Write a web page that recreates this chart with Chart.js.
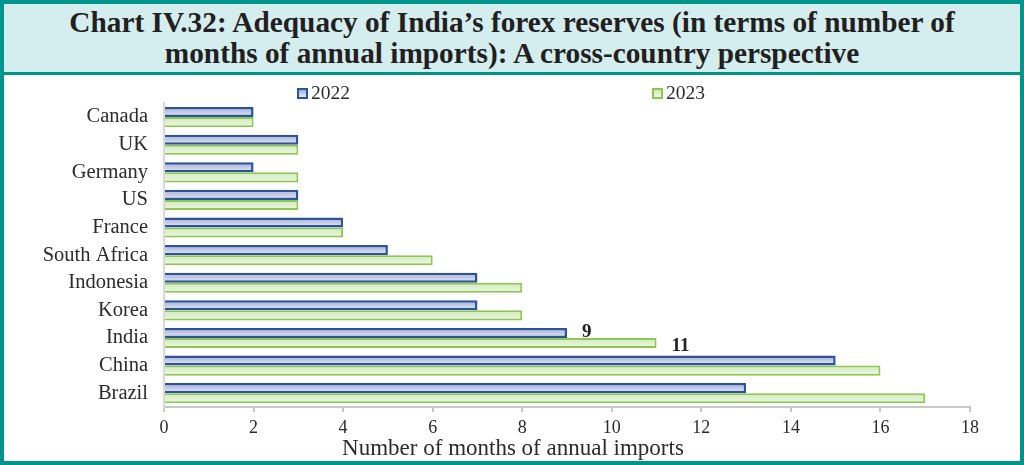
<!DOCTYPE html>
<html>
<head>
<meta charset="utf-8">
<script src="https://cdn.jsdelivr.net/npm/chart.js@4"></script>
<style>
  body { margin: 0; background: #fff; }
  #frame {
    position: relative; width: 1024px; height: 465px;
    border: 4px solid #00958a; box-sizing: border-box;
    font-family: "Liberation Serif", serif; color: #2b2b2b;
  }
  #title {
    background: #d4eef0; border-bottom: 3px solid #00958a;
    text-align: center; font-weight: bold; font-size: 29.3px; line-height: 31px;
    padding-top: 3px; height: 65px; color: #231f20;
  }
  #legend { position: absolute; top: 78px; left: 0; width: 100%; height: 22px; }
  .item { position: absolute; font-size: 19.5px; display: flex; align-items: center; }
  .box { width: 7px; height: 7px; border: 2px solid; margin-right: 3px; }
  #wrap { position: absolute; left: 0; top: 71px; width: 1016px; height: 386px; }
  #xtitle { position: absolute; left: 0; width: 1018px; top: 431px; text-align: center; font-size: 23px; color: #2b2b2b; }
</style>
</head>
<body>
<div id="frame">
  <div id="title">Chart IV.32: Adequacy of India’s forex reserves (in terms of number of<br>months of annual imports): A cross-country perspective</div>
  <div id="wrap"><canvas id="chart"></canvas></div>
  <div id="legend"></div>
  <div id="xtitle">Number of months of annual imports</div>
</div>
<script>
const categories = ["Canada", "UK", "Germany", "US", "France", "South Africa", "Indonesia", "Korea", "India", "China", "Brazil"];
const seriesLabels = ["2022", "2023"];
const months2022 = [2, 3, 2, 3, 4, 5, 7, 7, 9, 15, 13];
const months2023 = [2, 3, 3, 3, 4, 6, 8, 8, 11, 16, 17];
const labelledCountries = ["India"];

const CAT_PCT = 0.73;
const styles = [
  { border: "#2c539e", stops: ["#a3add3", "#e6e9f4"], legendLeft: 293 },
  { border: "#8cc84b", stops: ["#d0e9bd", "#eef7e7"], legendLeft: 648 }
];

function barFill(i) {
  return (ctx) => {
    const chart = ctx.chart;
    const ys = chart.scales.y;
    if (!ys || ctx.type !== "data") return styles[i].stops[1];
    const t = (ys.height / categories.length) * CAT_PCT / 2;
    const c = ys.getPixelForValue(ctx.dataIndex);
    if (!isFinite(t) || !isFinite(c) || t <= 0) return styles[i].stops[1];
    const top = i === 0 ? c - t : c;
    const g = chart.ctx.createLinearGradient(0, top, 0, top + t);
    g.addColorStop(0, styles[i].stops[0]);
    g.addColorStop(1, styles[i].stops[1]);
    return g;
  };
}

// values written next to India's bars
const valueLabels = {
  id: "valueLabels",
  afterDatasetsDraw(chart) {
    const ctx = chart.ctx;
    ctx.save();
    ctx.font = "bold 19px 'Liberation Serif'";
    ctx.fillStyle = "#222";
    ctx.textBaseline = "middle";
    chart.data.datasets.forEach((ds, di) => {
      const meta = chart.getDatasetMeta(di);
      categories.forEach((name, i) => {
        if (!labelledCountries.includes(name)) return;
        const bar = meta.data[i];
        ctx.fillText(ds.data[i], bar.x + 15, bar.y + (di === 0 ? -1 : 3));
      });
    });
    ctx.restore();
  }
};

const legend = document.querySelector("#legend");
seriesLabels.forEach((label, i) => {
  const item = document.createElement("div");
  item.className = "item";
  item.style.left = styles[i].legendLeft + "px";
  item.innerHTML = `<span class="box" style="border-color:${styles[i].border};background:linear-gradient(${styles[i].stops[0]},${styles[i].stops[1]})"></span>${label}`;
  legend.appendChild(item);
});

new Chart(document.querySelector("#chart"), {
  type: "bar",
  data: {
    labels: categories,
    datasets: [
      { label: seriesLabels[0], data: months2022, backgroundColor: barFill(0), borderColor: styles[0].border, borderWidth: 2.5 },
      { label: seriesLabels[1], data: months2023, backgroundColor: barFill(1), borderColor: styles[1].border, borderWidth: 2 }
    ]
  },
  options: {
    indexAxis: "y",
    responsive: true,
    maintainAspectRatio: false,
    animation: false,
    categoryPercentage: CAT_PCT,
    barPercentage: 1,
    layout: { padding: { top: 28, right: 50, bottom: 14, left: 10 } },
    plugins: { legend: { display: false }, tooltip: { enabled: false } },
    scales: {
      x: {
        min: 0, max: 18,
        ticks: { stepSize: 2, font: { family: "'Liberation Serif'", size: 18 }, color: "#2b2b2b", padding: 5, maxRotation: 0 },
        grid: { drawOnChartArea: false, drawTicks: true, tickLength: 5, color: "#c8c8c8", lineWidth: 2 },
        border: { display: true, color: "#c8c8c8", width: 2 },
        afterFit: (s) => { s.height = 40; }
      },
      y: {
        ticks: { font: { family: "'Liberation Serif'", size: 20.5 }, color: "#2b2b2b", padding: 16 },
        grid: { drawOnChartArea: false, drawTicks: false },
        border: { display: true, color: "#d9d9d9", width: 2 },
        afterFit: (s) => { s.width = 150; }
      }
    }
  },
  plugins: [valueLabels]
});
</script>
</body>
</html>
